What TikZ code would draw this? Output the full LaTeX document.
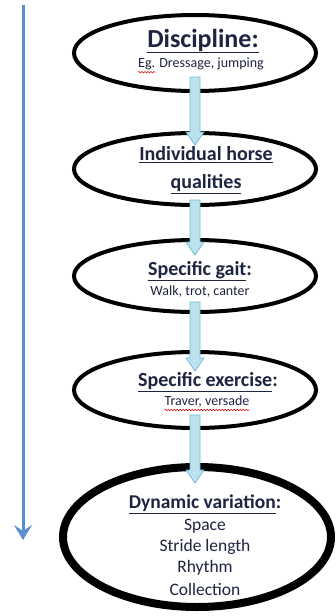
\documentclass[tikz,border=0pt]{standalone}
\usepackage{fontspec}
\setmainfont{Carlito}
\usetikzlibrary{shapes.geometric,arrows.meta,calc,decorations.pathmorphing}
\definecolor{inkblue}{HTML}{1F2440}
\definecolor{timeblue}{HTML}{5B8FD0}
\definecolor{flowfill}{HTML}{BCE2EE}
\definecolor{flowedge}{HTML}{72BDD6}
\begin{document}
\begin{tikzpicture}[x=1pt,y=-1pt,
  stage/.style={ellipse,draw=black,fill=white,line width=4pt,inner sep=0pt,
    minimum width=242pt,minimum height=76pt},
  head/.style={font=\bfseries\fontsize{20}{22}\selectfont,text=inkblue,align=center,inner sep=0pt},
  sub/.style={font=\fontsize{14}{16}\selectfont,text=inkblue,inner sep=0pt},
  item/.style={font=\fontsize{17.5}{20}\selectfont,text=inkblue,inner sep=0pt},
  flow/.style={fill=flowfill,draw=flowedge,line width=0.8pt,line join=miter},
  timeline/.style={draw=timeblue,line width=3pt,-{Stealth[length=15pt,width=18pt,inset=6pt]}},
  spell/.style={draw=red!85!black,line width=0.5pt,decorate,
    decoration={snake,amplitude=0.8pt,segment length=3pt}}]
\useasboundingbox (0,0) rectangle (336,616);

% left timeline arrow
\coordinate (tl-top) at (23,5);
\coordinate (tl-end) at (23,540);
\draw[timeline] (tl-top) -- (tl-end);

% stage ellipses
\node[stage] (disc) at (195,53) {};
\node[stage,minimum height=72pt] (qual) at (195,169) {};
\node[stage,minimum height=72pt] (gait) at (195,276) {};
\node[stage] (exer) at (195,390) {};
\node[stage,line width=8pt,minimum width=268pt,minimum height=140pt] (dyn) at (197,537) {};

% texts
\node[head,font=\bfseries\fontsize{26}{28}\selectfont] (t-disc) at (203,41) {\underline{Discipline:}};
\node[sub] (s-disc) at (201,64) {Eg. Dressage, jumping};
\node[head] (t-qual) at (206,155) {\underline{Individual horse}};
\node[head] (t-qual2) at (206,184) {\underline{qualities}};
\node[head] (t-gait) at (200,271) {\underline{Specific gait}:};
\node[sub] (s-gait) at (200,292) {Walk, trot, canter};
\node[head] (t-exer) at (208,382) {\underline{Specific exercise}:};
\node[sub] (s-exer) at (207,402) {Traver, versade};
\node[head,font=\bfseries\fontsize{19.5}{22}\selectfont] (t-dyn) at (205,504) {\underline{Dynamic variation}:};
\node[item] (i1) at (205,526) {Space};
\node[item] (i2) at (205,547) {Stride length};
\node[item] (i3) at (205,568) {Rhythm};
\node[item] (i4) at (205,589) {Collection};

% spelling marks
\draw[spell] ($(s-disc.south west)+(0,2)$) -- ++(18,0);
\draw[spell] ($(s-exer.south west)+(0,2)$) -- ($(s-exer.south east)+(0,2)$);

% block arrows between stages
\newcommand{\flowarrow}[2]{%
  \draw[flow] let \p1=(#1), \p2=(#2) in
    (\x1-5pt,\y1) -- (\x1+5pt,\y1) -- (\x1+5pt,\y2+13pt) -- (\x1+9pt,\y2+13pt)
    -- (\x1,\y2) -- (\x1-9pt,\y2+13pt) -- (\x1-5pt,\y2+13pt) -- cycle;}
\coordinate (a1s) at ($(disc.center)+(0,24)$);
\coordinate (a1e) at ($(qual.north)+(0,14)$);
\coordinate (a2s) at ($(qual.center)+(0,31)$);
\coordinate (a2e) at ($(gait.north)+(0,17)$);
\coordinate (a3s) at ($(gait.center)+(0,26)$);
\coordinate (a3e) at ($(exer.north)+(0,21)$);
\coordinate (a4s) at ($(exer.center)+(0,25)$);
\coordinate (a4e) at ($(dyn.north)+(0,20)$);
\flowarrow{a1s}{a1e}
\flowarrow{a2s}{a2e}
\flowarrow{a3s}{a3e}
\flowarrow{a4s}{a4e}
\end{tikzpicture}
\end{document}
